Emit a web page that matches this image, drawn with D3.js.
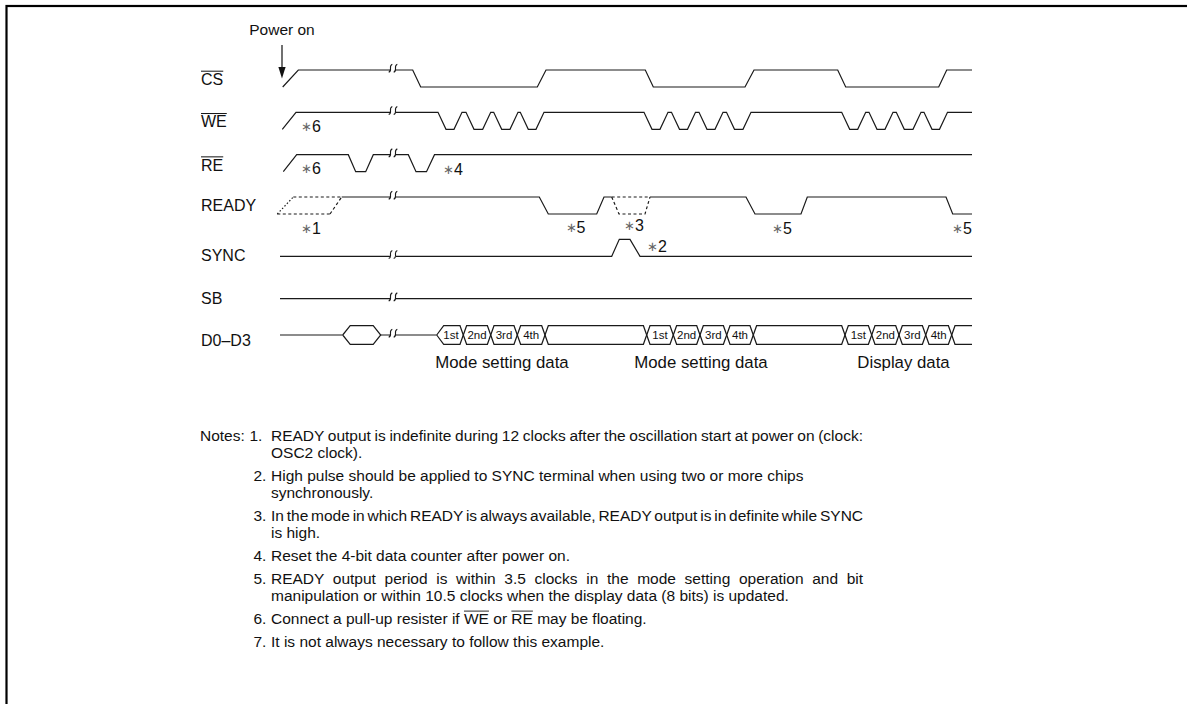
<!DOCTYPE html>
<html><head><meta charset="utf-8">
<script src="https://cdn.jsdelivr.net/npm/d3@7"></script>
<style>
body{margin:0;background:#fff}
svg{display:block}
text{font-family:"Liberation Sans",Arial,Helvetica,sans-serif;fill:#111}
</style>
</head><body>
<svg id="chart" width="1187" height="704"></svg>
<script>
// ---------- data (time units) ----------
const signals   = ["CS","WE","RE","READY","SYNC","SB","D0–D3"];
const activeLow = [true, true, true, false, false, false, false];
const labelDy   = [-2, -2, -1, -3, 5, 5, 5];

// waveform: start time, start level, end time, edges [time, new level, slew]
const csWave  = {start:2.7, level:0, end:692, edges:[[2.7,1,15.6],[132.7,0,8],[257.3,1,8.7],[365.3,0,8],[465,1,9],[557.7,0,8],[658.7,1,8]]};
const weWave  = {start:2.3, level:0, end:692, edges:[[2.3,1,13.7],
  [158,0],[174,1],[186,0],[202.7,1],[213.7,0],[230,1],[240.3,0],[256,1],
  [364,0],[380,1],[391.5,0],[407.5,1],[419,0],[435,1],[446.5,0],[463,1],
  [561.7,0],[577.7,1],[589,0],[605,1],[616.3,0],[633,1],[644,0],[659.5,1]]};
const reWave  = {start:3.3, level:0, end:692, edges:[[3.3,1,13.4],[68.3,0,7.4],[85.7,1,7.6],[128.3,0,7.7],[146.5,1,8]]};
const readyWaves = [
  {start:61.7, level:1, end:331.7, edges:[[259.3,0,9],[316.7,1,7.3]]},
  {start:370,  level:1, end:692,   edges:[[466,0,9],[521,1,6.3],[666,0,6.7]]}
];
const readyUnknownRise = {t0:-2.7, t1:50, slewIn:16, slewOut:11.7};
const readyUnknownDip  = {t0:331.7, t1:365, slewIn:7.3, slewOut:5};
const syncWave = {start:0, level:0, end:692, edges:[[331.7,1,7.6],[350,0,10]]};
const sbWave   = {start:0, level:0, end:692, edges:[]};

const dataHex    = {t0:62.7, t1:100.7};
const dataLineEnds = [0, 156.7];
const busStart   = 156.7;
const busEnd     = 692;
const busCross   = [183.3,210.7,237.3,265,366.7,393.3,420,446.7,473.3,565,591.7,619,645.7,671.7];
const busCells   = ["1st","2nd","3rd","4th","","1st","2nd","3rd","4th","","1st","2nd","3rd","4th",""];
const busGroups  = [{t:222,label:"Mode setting data"},{t:421,label:"Mode setting data"},{t:623.5,label:"Display data"}];

const breakTimes = [110.5, 115.5];

const remarks = [
  {row:"WE", t:21, dy:3, n:"6"},
  {row:"RE", t:21, dy:2.5, n:"6"},
  {row:"RE", t:163, dy:3.5, n:"4"},
  {row:"READY", t:21, dy:19.5, n:"1"},
  {row:"READY", t:285.5, dy:19, n:"5"},
  {row:"READY", t:344, dy:17, n:"3"},
  {row:"READY", t:492, dy:20, n:"5"},
  {row:"READY", t:672, dy:20, n:"5"},
  {row:"SYNC", t:367, dy:-4, n:"2"}
];

const notes = [
  ["READY output is indefinite during 12 clocks after the oscillation start at power on (clock:", "OSC2 clock)."],
  ["High pulse should be applied to SYNC terminal when using two or more chips", "synchronously."],
  ["In the mode in which READY is always available, READY output is in definite while SYNC", "is high."],
  ["Reset the 4-bit data counter after power on."],
  ["READY output period is within 3.5 clocks in the mode setting operation and bit", "manipulation or within 10.5 clocks when the display data (8 bits) is updated."],
  ["Connect a pull-up resister if ~WE~ or ~RE~ may be floating."],
  ["It is not always necessary to follow this example."]
];
const justifyLines = [[0,0],[2,0],[4,0]]; // [note, line] set flush to the right margin

// ---------- layout ----------
const svg = d3.select("#chart");
const x = d3.scaleLinear().domain([0, 692]).range([280, 972]);
const y = d3.scalePoint().domain(signals).range([87, 341]);
const amp = 17;
const slewDefault = 8;
const lineColor = "#1a1a1a";
const sw = 1.2;

// frame
svg.append("rect").attr("x",6.5).attr("y",6).attr("width",1400).attr("height",900)
  .attr("fill","none").attr("stroke","#000").attr("stroke-width",2.2);

const yl = (row, lvl) => y(row) - lvl*amp;
function wavePts(w){
  const pts = [[w.start, w.level]]; let lvl = w.level;
  for (const e of w.edges){ const s = e[2] ?? slewDefault; pts.push([e[0], lvl]); pts.push([e[0]+s, e[1]]); lvl = e[1]; }
  pts.push([w.end, lvl]); return pts;
}
function drawWave(row, w, dash){
  const line = d3.line().x(d=>x(d[0])).y(d=>yl(row,d[1]));
  svg.append("path").attr("d", line(wavePts(w))).attr("fill","none")
    .attr("stroke",lineColor).attr("stroke-width",sw).attr("stroke-linejoin","miter")
    .attr("stroke-dasharray", dash || null);
}
drawWave("CS", csWave);
drawWave("WE", weWave);
drawWave("RE", reWave);
readyWaves.forEach(w=>drawWave("READY", w));
drawWave("SYNC", syncWave);
drawWave("SB", sbWave);

// READY indefinite regions
function seg(pts, dash){
  svg.append("path").attr("d", d3.line().x(d=>x(d[0])).y(d=>yl("READY",d[1]))(pts))
    .attr("fill","none").attr("stroke",lineColor).attr("stroke-width",sw).attr("stroke-dasharray",dash);
}
{
  const u = readyUnknownRise;
  seg([[u.t0,0],[u.t1,0]], "3,2.5");
  seg([[u.t0+u.slewIn,1],[u.t1+u.slewOut,1]], "3,2.5");
  seg([[u.t0,0],[u.t0+u.slewIn,1]], "1.5,2");
  seg([[u.t1,0],[u.t1+u.slewOut,1]], "3,2.5");
  const v = readyUnknownDip;
  seg([[v.t0,1],[v.t1+v.slewOut,1]], "3,2.5");
  seg([[v.t0,1],[v.t0+v.slewIn,0],[v.t1,0],[v.t1+v.slewOut,1]], "3,2.5");
}

// D0–D3 bus
const dRow = "D0–D3";
const busMid = y(dRow) - 6, busHalf = 9.3;
const bTop = busMid - busHalf, bBot = busMid + busHalf;
svg.append("path").attr("d", d3.line()([[x(dataLineEnds[0]),busMid],[x(dataHex.t0),busMid]]))
  .attr("stroke",lineColor).attr("stroke-width",sw).attr("fill","none");
const hexTip = 7.5;
svg.append("path").attr("d", d3.line()([
  [x(dataHex.t0),busMid],[x(dataHex.t0)+hexTip,bTop],[x(dataHex.t1)-hexTip,bTop],[x(dataHex.t1),busMid],
  [x(dataHex.t1)-hexTip,bBot],[x(dataHex.t0)+hexTip,bBot],[x(dataHex.t0),busMid]]))
  .attr("stroke",lineColor).attr("stroke-width",sw).attr("fill","none");
svg.append("path").attr("d", d3.line()([[x(dataHex.t1),busMid],[x(dataLineEnds[1]),busMid]]))
  .attr("stroke",lineColor).attr("stroke-width",sw).attr("fill","none");
{
  const tip = 7, hx = 3.3;
  const railA = [[x(busStart),busMid],[x(busStart)+tip,bTop]];
  const railB = [[x(busStart),busMid],[x(busStart)+tip,bBot]];
  let aTop = true;
  busCross.forEach(c=>{
    const cx = x(c);
    railA.push([cx-hx, aTop?bTop:bBot],[cx+hx, aTop?bBot:bTop]);
    railB.push([cx-hx, aTop?bBot:bTop],[cx+hx, aTop?bTop:bBot]);
    aTop = !aTop;
  });
  railA.push([x(busEnd), aTop?bTop:bBot]);
  railB.push([x(busEnd), aTop?bBot:bTop]);
  [railA, railB].forEach(r=>svg.append("path").attr("d", d3.line()(r))
    .attr("stroke",lineColor).attr("stroke-width",sw).attr("fill","none"));
  const edges = [busStart+2].concat(busCross).concat([busEnd]);
  busCells.forEach((lab,i)=>{
    if(!lab) return;
    svg.append("text").attr("x",(x(edges[i])+x(edges[i+1]))/2).attr("y",busMid+4)
      .attr("text-anchor","middle").attr("font-size",11.5).text(lab);
  });
  busGroups.forEach(g=>svg.append("text").attr("x",x(g.t)).attr("y",368)
    .attr("text-anchor","middle").attr("font-size",16.8).text(g.label));
}

// breaks
function levelAt(pts, t){
  for(let i=0;i<pts.length-1;i++){
    const a=pts[i], b=pts[i+1];
    if(t>=a[0] && t<=b[0]){ return b[0]===a[0]? b[1] : a[1]+(b[1]-a[1])*(t-a[0])/(b[0]-a[0]); }
  }
  return pts[pts.length-1][1];
}
const breakY = {
  "CS": yl("CS", levelAt(wavePts(csWave),113)),
  "WE": yl("WE", levelAt(wavePts(weWave),113)),
  "RE": yl("RE", levelAt(wavePts(reWave),113)),
  "READY": yl("READY", 1),
  "SYNC": yl("SYNC", levelAt(wavePts(syncWave),113)),
  "SB": yl("SB", 0),
  "D0–D3": busMid
};
signals.forEach(s=>{
  const by = breakY[s];
  svg.append("rect").attr("x",x(breakTimes[0])-0.5).attr("y",by-3).attr("width",x(breakTimes[1])-x(breakTimes[0])+1).attr("height",6).attr("fill","#fff");
  breakTimes.forEach(t=>{
    const cx = x(t);
    svg.append("path").attr("d",`M${cx-1.8},${by+2.2} C${cx+2.6},${by+0.8} ${cx-2.6},${by-4.2} ${cx+1.8},${by-5.8}`)
      .attr("fill","none").attr("stroke",lineColor).attr("stroke-width",1.1);
  });
});

// signal labels
signals.forEach((s,i)=>{
  const t = svg.append("text").attr("x",201).attr("y",y(s)+labelDy[i]).attr("font-size",16).text(s);
  if(activeLow[i]){
    const bb = t.node().getBBox();
    svg.append("line").attr("x1",bb.x).attr("x2",bb.x+bb.width)
      .attr("y1",y(s)+labelDy[i]-13.8).attr("y2",y(s)+labelDy[i]-13.8)
      .attr("stroke","#111").attr("stroke-width",1);
  }
});

// power on arrow
{
  const ax = x(2);
  svg.append("text").attr("x",ax).attr("y",35).attr("text-anchor","middle").attr("font-size",15.5).text("Power on");
  svg.append("line").attr("x1",ax).attr("x2",ax).attr("y1",45).attr("y2",70).attr("stroke","#111").attr("stroke-width",1.2);
  svg.append("path").attr("d",`M${ax-3.6},${67} L${ax+3.6},${67} L${ax},${78.5} Z`).attr("fill","#111");
}

// remarks (*n)
remarks.forEach(r=>{
  const t = svg.append("text").attr("x",x(r.t)).attr("y",y(r.row)+r.dy).attr("font-size",16);
  t.append("tspan").attr("font-size",13).attr("fill","#666").attr("dy",-1).text("∗");
  t.append("tspan").attr("dy",1).text(r.n);
});

// notes
{
  const fs = 15.5;
  const noteX = 200, firstNumX = 249.5, numX = 253.5, textX = 271, rightMargin = 863;
  let yy = 441;
  svg.append("text").attr("x",noteX).attr("y",yy).attr("font-size",fs).text("Notes:");
  notes.forEach((lines,i)=>{
    if(i>0) yy += 23;
    svg.append("text").attr("x",i===0?firstNumX:numX).attr("y",yy).attr("font-size",fs).text((i+1)+".");
    lines.forEach((ln,j)=>{
      if(j>0) yy += 17;
      const parts = ln.split("~");
      const t = svg.append("text").attr("x",textX).attr("y",yy).attr("font-size",fs);
      parts.forEach(p=>t.append("tspan").text(p));
      if(justifyLines.some(d=>d[0]===i && d[1]===j)){
        const natural = t.node().getComputedTextLength();
        const spaces = (ln.match(/ /g)||[]).length;
        t.attr("word-spacing", ((rightMargin - textX - natural)/spaces).toFixed(2));
      }
      let idx = 0;
      parts.forEach((p,k)=>{
        if(k%2===1 && p.length){
          const n = t.node();
          const x0 = n.getStartPositionOfChar(idx).x, x1 = n.getEndPositionOfChar(idx+p.length-1).x;
          svg.append("line").attr("x1",x0).attr("x2",x1).attr("y1",yy-12.9).attr("y2",yy-12.9)
            .attr("stroke","#111").attr("stroke-width",0.9);
        }
        idx += p.length;
      });
    });
  });
}
</script>
</body></html>
